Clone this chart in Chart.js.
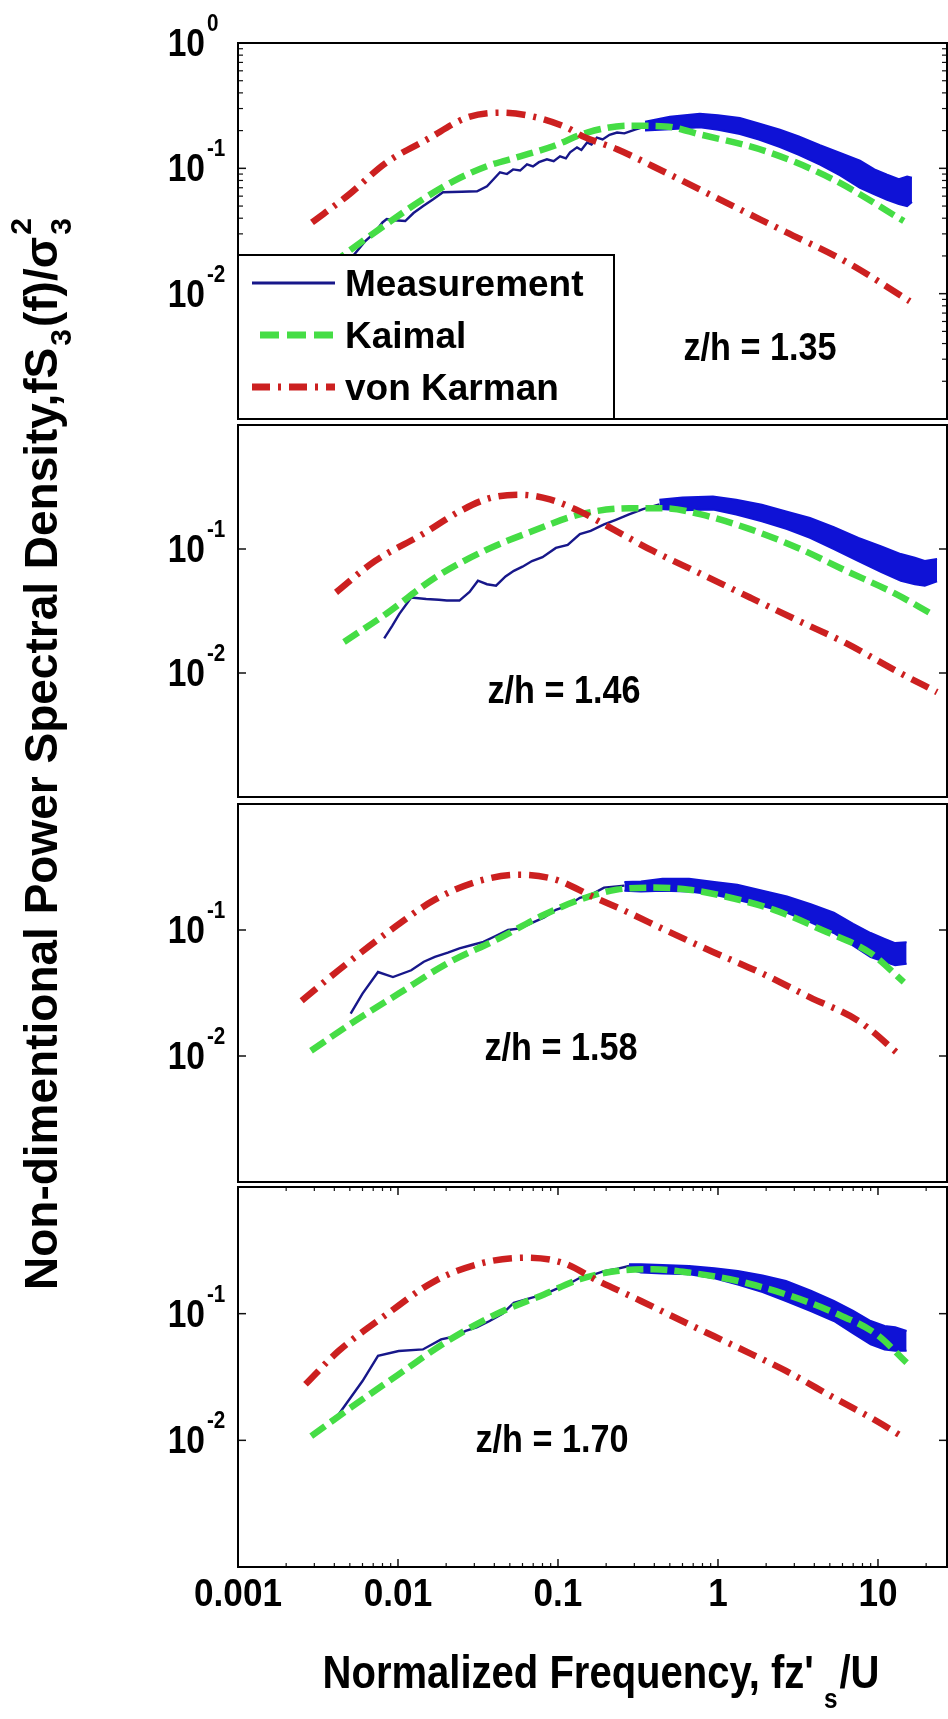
<!DOCTYPE html>
<html>
<head>
<meta charset="utf-8">
<script src="https://cdn.jsdelivr.net/npm/chart.js@4.4.0/dist/chart.umd.min.js"></script>
<style>
  html, body { margin: 0; padding: 0; background: #fff; overflow: hidden; }
  #wrap { position: relative; width: 948px; height: 1719px; }
  #wrap canvas { position: absolute; left: 0; top: 0; }
</style>
</head>
<body>
<div id="wrap">
  <canvas id="p1" width="948" height="1719"></canvas>
  <canvas id="p2" width="948" height="1719"></canvas>
  <canvas id="p3" width="948" height="1719"></canvas>
  <canvas id="p4" width="948" height="1719"></canvas>
</div>
<script>
// axis ticks and labels
var xTicks = [0.001, 0.01, 0.1, 1, 10];
var xTickLabels = ["0.001", "0.01", "0.1", "1", "10"];
var yTicks = [0.1, 0.01];
var heights = ["z/h = 1.35", "z/h = 1.46", "z/h = 1.58", "z/h = 1.70"];
var legendLabels = ["Measurement", "Kaimal", "von Karman"];

// z/h = 1.35
var meas1X = [0.0048, 0.0062, 0.0072, 0.0080, 0.0085, 0.0095, 0.0111, 0.0125, 0.0143, 0.0166, 0.0191, 0.0250, 0.0312, 0.0360, 0.0434, 0.0480, 0.0524, 0.0580, 0.0640, 0.0698, 0.0760, 0.0853, 0.0940, 0.1030, 0.1120, 0.1190, 0.1315, 0.1400, 0.1520, 0.1620, 0.1750, 0.1900, 0.2100, 0.2340, 0.2600, 0.3030, 0.3500];
var meas1Y = [0.0175, 0.0260, 0.0310, 0.0370, 0.0394, 0.0385, 0.0380, 0.0440, 0.0499, 0.0567, 0.0645, 0.0650, 0.0657, 0.0720, 0.0930, 0.0900, 0.0980, 0.0960, 0.1076, 0.1037, 0.1120, 0.1180, 0.1140, 0.1245, 0.1200, 0.1340, 0.1470, 0.1400, 0.1610, 0.1550, 0.1760, 0.1700, 0.1850, 0.1930, 0.1900, 0.2040, 0.2150];
var band1X = [0.35, 0.5, 0.77, 1.0, 1.37, 1.8, 2.44, 3.2, 4.34, 5.8, 7.72, 9.5, 11.4, 13.5, 15.2, 16.3];
var band1Hi = [0.235, 0.258, 0.272, 0.265, 0.252, 0.228, 0.203, 0.180, 0.153, 0.133, 0.115, 0.098, 0.089, 0.082, 0.086, 0.084];
var band1Lo = [0.200, 0.205, 0.213, 0.203, 0.188, 0.170, 0.148, 0.128, 0.107, 0.088, 0.070, 0.062, 0.056, 0.052, 0.050, 0.054];
var kaimal1X = [0.0029, 0.0049, 0.0085, 0.0143, 0.0221, 0.036, 0.058, 0.093, 0.152, 0.278, 0.467, 0.78, 2.02, 5.2, 14.5];
var kaimal1Y = [0.013, 0.0217, 0.036, 0.0567, 0.0788, 0.104, 0.1245, 0.150, 0.193, 0.219, 0.216, 0.186, 0.136, 0.082, 0.038];
var karman1X = [0.0029, 0.0048, 0.0085, 0.0152, 0.027, 0.0434, 0.0698, 0.114, 0.143, 0.234, 0.467, 1.1, 2.66, 6.3, 15.8];
var karman1Y = [0.037, 0.060, 0.1116, 0.170, 0.254, 0.278, 0.259, 0.211, 0.180, 0.142, 0.093, 0.054, 0.031, 0.018, 0.0087];

// z/h = 1.46
var meas2X = [0.0082, 0.0092, 0.0102, 0.0121, 0.0150, 0.0180, 0.0202, 0.0242, 0.0280, 0.0316, 0.0360, 0.0410, 0.0470, 0.0530, 0.0600, 0.0688, 0.0800, 0.0970, 0.1150, 0.1370, 0.1600, 0.1940, 0.2300, 0.2780, 0.3400, 0.4300];
var meas2Y = [0.0190, 0.0240, 0.0300, 0.0406, 0.0395, 0.0390, 0.0384, 0.0384, 0.0450, 0.0555, 0.0520, 0.0506, 0.0600, 0.0667, 0.0720, 0.0800, 0.0860, 0.1020, 0.1080, 0.1320, 0.1400, 0.1580, 0.1720, 0.1900, 0.2100, 0.2290];
var band2X = [0.43, 0.6, 0.93, 1.3, 1.88, 2.7, 3.76, 5.3, 7.55, 10.5, 13.9, 17, 19.6, 23.4];
var band2Hi = [0.250, 0.260, 0.265, 0.250, 0.228, 0.200, 0.178, 0.150, 0.123, 0.105, 0.091, 0.085, 0.080, 0.083];
var band2Lo = [0.210, 0.205, 0.208, 0.190, 0.1675, 0.145, 0.123, 0.100, 0.080, 0.065, 0.0555, 0.052, 0.0506, 0.055];
var kaimal2X = [0.0046, 0.0085, 0.017, 0.0345, 0.0688, 0.137, 0.278, 0.467, 0.783, 1.585, 3.16, 6.31, 12.8, 21.4];
var kaimal2Y = [0.0178, 0.0302, 0.0586, 0.0964, 0.139, 0.190, 0.213, 0.213, 0.190, 0.1445, 0.102, 0.0667, 0.0437, 0.0302];
var karman2X = [0.0041, 0.0072, 0.0143, 0.0242, 0.0374, 0.058, 0.089, 0.137, 0.213, 0.393, 0.783, 1.585, 3.16, 6.31, 12.8, 23.4];
var karman2Y = [0.0447, 0.0802, 0.132, 0.201, 0.257, 0.274, 0.251, 0.201, 0.148, 0.0964, 0.063, 0.0406, 0.0265, 0.0174, 0.0105, 0.0070];

// z/h = 1.58
var meas3X = [0.00506, 0.0060, 0.0075, 0.0093, 0.0121, 0.0145, 0.0170, 0.0205, 0.0242, 0.0290, 0.0342, 0.0410, 0.0487, 0.0580, 0.0688, 0.0820, 0.0970, 0.1150, 0.1370, 0.1600, 0.1940, 0.2600];
var meas3Y = [0.0217, 0.0313, 0.0464, 0.0423, 0.0479, 0.0560, 0.0611, 0.0660, 0.0715, 0.0760, 0.0806, 0.0900, 0.1000, 0.1030, 0.1140, 0.1260, 0.1445, 0.1560, 0.1800, 0.1900, 0.2170, 0.2250];
var band3X = [0.26, 0.33, 0.45, 0.66, 0.95, 1.32, 1.9, 2.7, 3.8, 5.3, 7.0, 9.0, 11, 12.8, 15.1];
var band3Hi = [0.240, 0.243, 0.255, 0.255, 0.240, 0.229, 0.205, 0.1845, 0.160, 0.137, 0.112, 0.0946, 0.085, 0.0787, 0.080];
var band3Lo = [0.205, 0.202, 0.205, 0.202, 0.190, 0.174, 0.155, 0.137, 0.115, 0.0946, 0.075, 0.061, 0.056, 0.0525, 0.054];
var kaimal3X = [0.00286, 0.00506, 0.0101, 0.0204, 0.0408, 0.0818, 0.137, 0.233, 0.393, 0.659, 1.11, 2.24, 4.47, 9.0, 14.5];
var kaimal3Y = [0.011, 0.018, 0.0313, 0.0545, 0.0832, 0.132, 0.174, 0.209, 0.217, 0.209, 0.1845, 0.1445, 0.100, 0.0655, 0.0386];
var karman3X = [0.0025, 0.00425, 0.0085, 0.017, 0.0314, 0.058, 0.097, 0.164, 0.278, 0.467, 0.93, 1.88, 3.76, 7.55, 13.9];
var karman3Y = [0.0275, 0.0479, 0.0946, 0.174, 0.243, 0.275, 0.251, 0.1845, 0.137, 0.100, 0.067, 0.0453, 0.0292, 0.019, 0.0100];

// z/h = 1.70
var meas4X = [0.00425, 0.0060, 0.0075, 0.0101, 0.0143, 0.0186, 0.0225, 0.0265, 0.0310, 0.0374, 0.0450, 0.0530, 0.0688, 0.0820, 0.0970, 0.1150, 0.1370, 0.1600, 0.1940, 0.2300, 0.2780];
var meas4Y = [0.0160, 0.0294, 0.0464, 0.0507, 0.0522, 0.0626, 0.0660, 0.0730, 0.0780, 0.0875, 0.1000, 0.1220, 0.1340, 0.1420, 0.1560, 0.1700, 0.1920, 0.2000, 0.2170, 0.2250, 0.2380];
var band4X = [0.278, 0.33, 0.45, 0.66, 0.95, 1.33, 1.9, 2.66, 3.8, 5.3, 7.0, 9.0, 11, 12.8, 15.1];
var band4Hi = [0.245, 0.245, 0.242, 0.238, 0.228, 0.217, 0.200, 0.181, 0.152, 0.126, 0.105, 0.0875, 0.080, 0.078, 0.073];
var band4Lo = [0.225, 0.211, 0.208, 0.205, 0.190, 0.170, 0.148, 0.126, 0.105, 0.0875, 0.070, 0.0573, 0.052, 0.051, 0.051];
var kaimal4X = [0.00287, 0.00506, 0.0101, 0.0204, 0.0408, 0.0818, 0.137, 0.233, 0.393, 0.659, 1.33, 2.66, 5.3, 9.8, 15.1];
var kaimal4Y = [0.0108, 0.0181, 0.0332, 0.0608, 0.0988, 0.142, 0.187, 0.217, 0.224, 0.211, 0.181, 0.142, 0.102, 0.0687, 0.041];
var karman4X = [0.00264, 0.00425, 0.0085, 0.017, 0.0344, 0.0631, 0.106, 0.179, 0.33, 0.659, 1.33, 2.66, 5.3, 9.8, 14.5];
var karman4Y = [0.0277, 0.0507, 0.0988, 0.181, 0.253, 0.277, 0.253, 0.181, 0.126, 0.0824, 0.054, 0.0353, 0.0217, 0.0142, 0.0105];

var NAVY = '#17178a', BLUE = '#0f12d6', GREEN = '#45dd45', RED = '#cc2020';
var FONT = '"Liberation Sans", Arial, Helvetica, sans-serif';

var panels = [
  { id: 'p1', top: 43, bottom: 419, lx: 760, ly: 360, minorY: true, legend: true, top10: true,
    meas: [meas1X, meas1Y], band: [band1X, band1Hi, band1Lo], kaimal: [kaimal1X, kaimal1Y], karman: [karman1X, karman1Y] },
  { id: 'p2', top: 425, bottom: 797, lx: 564, ly: 703,
    meas: [meas2X, meas2Y], band: [band2X, band2Hi, band2Lo], kaimal: [kaimal2X, kaimal2Y], karman: [karman2X, karman2Y] },
  { id: 'p3', top: 804, bottom: 1182, lx: 561, ly: 1060,
    meas: [meas3X, meas3Y], band: [band3X, band3Hi, band3Lo], kaimal: [kaimal3X, kaimal3Y], karman: [karman3X, karman3Y] },
  { id: 'p4', top: 1187, bottom: 1567, lx: 552, ly: 1452, xAxis: true,
    meas: [meas4X, meas4Y], band: [band4X, band4Hi, band4Lo], kaimal: [kaimal4X, kaimal4Y], karman: [karman4X, karman4Y] }
];

function pts(xs, ys) {
  return xs.map(function (x, i) { return { x: x, y: ys[i] }; });
}

function say(ctx, s, x, y, size, sx, align) {
  ctx.save();
  ctx.font = 'bold ' + size + 'px ' + FONT;
  ctx.textAlign = align || 'left';
  ctx.textBaseline = 'alphabetic';
  ctx.translate(x, y);
  ctx.scale(sx, 1);
  ctx.fillText(s, 0, 0);
  ctx.restore();
}

function widthOf(ctx, s, size, sx) {
  ctx.save();
  ctx.font = 'bold ' + size + 'px ' + FONT;
  var w = ctx.measureText(s).width * sx;
  ctx.restore();
  return w;
}

function seg(ctx, x1, y1, x2, y2) {
  ctx.beginPath();
  ctx.moveTo(x1, y1);
  ctx.lineTo(x2, y2);
  ctx.stroke();
}

function panelPlugin(p) {
  return {
    id: 'frame_' + p.id,
    afterDraw: function (chart) {
      var ctx = chart.ctx, a = chart.chartArea;
      var xs = chart.scales.x, ys = chart.scales.y;
      ctx.save();
      ctx.strokeStyle = '#111';
      ctx.fillStyle = '#000';

      // y ticks, inward on both sides
      ctx.lineWidth = 1.5;
      yTicks.forEach(function (v) {
        var py = ys.getPixelForValue(v);
        seg(ctx, a.left, py, a.left + 8, py);
        seg(ctx, a.right, py, a.right - 8, py);
      });
      if (p.minorY) {
        ctx.lineWidth = 1.2;
        [0.001, 0.01, 0.1].forEach(function (d) {
          for (var k = 2; k <= 9; k++) {
            var py = ys.getPixelForValue(k * d);
            seg(ctx, a.left, py, a.left + 5, py);
            seg(ctx, a.right, py, a.right - 5, py);
          }
        });
      }

      // x ticks on the lowest panel, top and bottom
      if (p.xAxis) {
        [0.001, 0.01, 0.1, 1, 10].forEach(function (d) {
          for (var k = 1; k <= 9; k++) {
            var v = k * d;
            if (v > xs.max) break;
            var px = xs.getPixelForValue(v);
            var len = k === 1 ? 8 : 4;
            ctx.lineWidth = k === 1 ? 1.5 : 1.2;
            seg(ctx, px, a.bottom, px, a.bottom - len);
            seg(ctx, px, a.top, px, a.top + len);
          }
        });
        xTicks.forEach(function (v, i) {
          say(ctx, xTickLabels[i], xs.getPixelForValue(v), 1606, 39, 0.9, 'center');
        });
      }

      // frame
      ctx.lineWidth = 2;
      ctx.strokeStyle = '#000';
      ctx.strokeRect(a.left, a.top, a.right - a.left, a.bottom - a.top);

      // y tick labels 10^n
      var ys2 = p.top10 ? [1].concat(yTicks) : yTicks;
      ys2.forEach(function (v) {
        var py = ys.getPixelForValue(v);
        var e = Math.round(Math.log10(v));
        say(ctx, '10', a.left - 33, py + 13, 39, 0.86, 'right');
        say(ctx, String(e), a.left - 31, py - 12, 24, 0.86, 'left');
      });

      // height label
      say(ctx, heights[panels.indexOf(p)], p.lx, p.ly, 38, 0.9, 'center');

      // legend box
      if (p.legend) {
        var L = 238, T = 255, R = 614, B = a.bottom;
        ctx.fillStyle = '#fff';
        ctx.fillRect(L, T, R - L, B - T);
        ctx.lineWidth = 2;
        ctx.strokeStyle = '#000';
        ctx.strokeRect(L, T, R - L, B - T);
        var rows = [
          { y: 283, color: NAVY, w: 3, dash: [] },
          { y: 335, color: GREEN, w: 7, dash: [19, 8] },
          { y: 387, color: RED, w: 7, dash: [18, 8, 3, 8] }
        ];
        rows.forEach(function (r, i) {
          ctx.save();
          ctx.strokeStyle = r.color;
          ctx.lineWidth = r.w;
          ctx.setLineDash(r.dash);
          seg(ctx, i === 1 ? 260 : 252, r.y, 335, r.y);
          ctx.restore();
          ctx.fillStyle = '#000';
          say(ctx, legendLabels[i], 345, r.y + 13, 37, 1.0, 'left');
        });
      }

      // page titles, drawn once on the last panel
      if (p.xAxis) {
        ctx.fillStyle = '#000';
        var s1 = "Normalized Frequency, fz'", s2 = '/U';
        var w1 = widthOf(ctx, s1, 46, 0.87), ws = widthOf(ctx, 's', 28, 0.87), w2 = widthOf(ctx, s2, 46, 0.87);
        var x0 = 601 - (w1 + 10 + ws + 2 + w2) / 2;
        say(ctx, s1, x0, 1688, 46, 0.87, 'left');
        say(ctx, 's', x0 + w1 + 10, 1708, 28, 0.87, 'left');
        say(ctx, s2, x0 + w1 + 10 + ws + 2, 1688, 46, 0.87, 'left');

        ctx.save();
        ctx.translate(57, 1290);
        ctx.rotate(-Math.PI / 2);
        var t1 = 'Non-dimentional Power Spectral Density,fS', t2 = '(f)/\u03c3';
        var u1 = widthOf(ctx, t1, 46, 1), u3 = widthOf(ctx, '3', 30, 1), u2 = widthOf(ctx, t2, 46, 1);
        say(ctx, t1, 0, 0, 46, 1, 'left');
        say(ctx, '3', u1 + 2, 14, 30, 1, 'left');
        say(ctx, t2, u1 + 4 + u3, 0, 46, 1, 'left');
        say(ctx, '3', u1 + 6 + u3 + u2, 14, 30, 1, 'left');
        say(ctx, '2', u1 + 6 + u3 + u2, -26, 30, 1, 'left');
        ctx.restore();
      }
      ctx.restore();
    }
  };
}

var charts = panels.map(function (p) {
  var ds = [
    { label: legendLabels[2], data: pts(p.karman[0], p.karman[1]), borderColor: RED, borderWidth: 6.5,
      borderDash: [19, 8, 3, 8], cubicInterpolationMode: 'monotone' },
    { label: legendLabels[1], data: pts(p.kaimal[0], p.kaimal[1]), borderColor: GREEN, borderWidth: 6.5,
      borderDash: [17, 7], cubicInterpolationMode: 'monotone' },
    { label: legendLabels[0], data: pts(p.meas[0], p.meas[1]), borderColor: NAVY, borderWidth: 2.4 },
    { label: 'band top', data: pts(p.band[0], p.band[1]), borderColor: BLUE, borderWidth: 2 },
    { label: 'band bottom', data: pts(p.band[0], p.band[2]), borderColor: BLUE, borderWidth: 2,
      fill: '-1', backgroundColor: BLUE }
  ];
  return new Chart(document.getElementById(p.id), {
    type: 'line',
    data: { datasets: ds },
    options: {
      responsive: false,
      devicePixelRatio: 1,
      animation: false,
      layout: { padding: { left: 238, right: 1, top: p.top, bottom: 1719 - p.bottom } },
      elements: { point: { radius: 0 }, line: { tension: 0, fill: false } },
      scales: {
        x: { type: 'logarithmic', min: 0.001, max: 27, display: false },
        y: { type: 'logarithmic', min: 0.001, max: 1, display: false }
      },
      plugins: { legend: { display: false }, tooltip: { enabled: false } }
    },
    plugins: [panelPlugin(p)]
  });
});
</script>
</body>
</html>
